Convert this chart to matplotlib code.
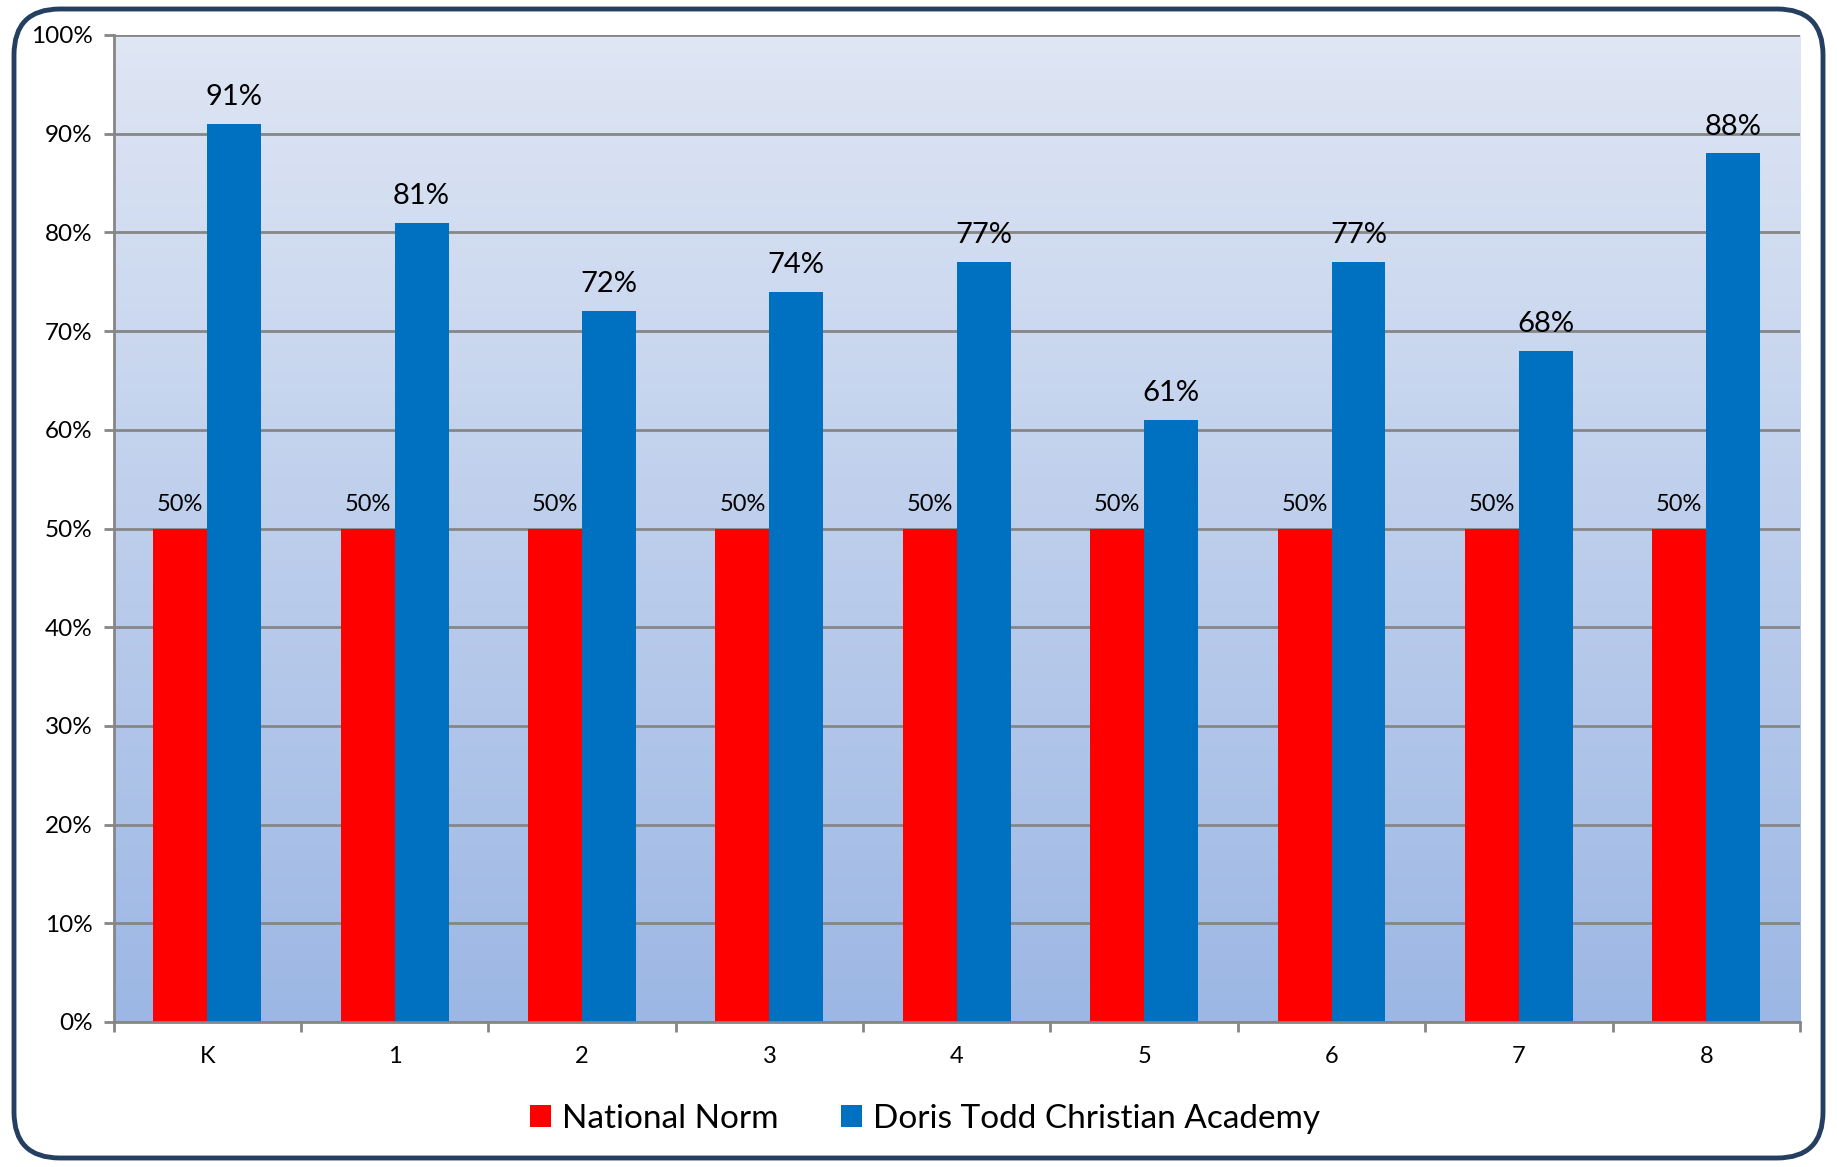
"""
Grade-level percentile chart: National Norm vs Doris Todd Christian Academy.
"""

import numpy as np
import matplotlib.pyplot as plt
from matplotlib.patches import FancyBboxPatch
from matplotlib.ticker import PercentFormatter

# =========================================================
# Data
# =========================================================
GRADES = ["K", "1", "2", "3", "4", "5", "6", "7", "8"]
NATIONAL_NORM = [50, 50, 50, 50, 50, 50, 50, 50, 50]
ACADEMY = [91, 81, 72, 74, 77, 61, 77, 68, 88]

SERIES_NAMES = ["National Norm", "Doris Todd Christian Academy"]
RED = "#ff0000"
BLUE = "#0070c0"
GRID = "#868686"

plt.rcParams["font.family"] = ["Lato", "DejaVu Sans"]

# =========================================================
# Figure
# =========================================================
W, H = 1837, 1167
fig = plt.figure(figsize=(W / 100, H / 100), dpi=100)

# axes placement in pixels
left, right, top, bottom = 113.5, 1800, 35, 1022
ax = fig.add_axes([left / W, 1 - bottom / H, (right - left) / W, (bottom - top) / H])

# gradient background
grad = np.linspace(0, 1, 256).reshape(-1, 1)
top_c = np.array([223, 230, 244]) / 255
bot_c = np.array([156, 183, 228]) / 255
img = top_c[None, None, :] * (1 - grad[:, :, None]) + bot_c[None, None, :] * grad[:, :, None]
ax.imshow(img, extent=[0, len(GRADES), 0, 100], aspect="auto", zorder=0)

x = np.arange(len(GRADES)) + 0.5
bw = 0.288

b1 = ax.bar(x - bw / 2, NATIONAL_NORM, bw, color=RED, zorder=3, label=SERIES_NAMES[0])
b2 = ax.bar(x + bw / 2, ACADEMY, bw, color=BLUE, zorder=3, label=SERIES_NAMES[1])

for rect, v in zip(b1, NATIONAL_NORM):
    ax.annotate(f"{v}%", (rect.get_x() + rect.get_width() / 2, v),
                xytext=(0, 10), textcoords="offset points",
                ha="center", va="bottom", fontsize=17, zorder=5)
for rect, v in zip(b2, ACADEMY):
    ax.annotate(f"{v}%", (rect.get_x() + rect.get_width() / 2, v),
                xytext=(0, 10), textcoords="offset points",
                ha="center", va="bottom", fontsize=21, zorder=5)

ax.set_xlim(0, len(GRADES))
ax.set_ylim(0, 100)
ax.set_yticks(np.arange(0, 101, 10))
ax.yaxis.set_major_formatter(PercentFormatter(decimals=0))
ax.set_xticks(np.arange(0, len(GRADES) + 1))
ax.set_xticklabels([])
ax.set_xticks(x, minor=True)
ax.set_xticklabels(GRADES, minor=True)

ax.grid(axis="y", color=GRID, linewidth=2, zorder=1)
ax.set_axisbelow(False)
for s in ["top", "right"]:
    ax.spines[s].set_visible(False)
for s in ["left", "bottom"]:
    ax.spines[s].set_color(GRID)
    ax.spines[s].set_linewidth(2)
    ax.spines[s].set_zorder(4)

ax.tick_params(axis="y", which="major", length=7, width=2, color=GRID,
               labelsize=17.5, pad=8)
ax.tick_params(axis="x", which="major", length=7, width=2, color=GRID)
ax.tick_params(axis="x", which="minor", length=0, labelsize=17, pad=17)

# legend
fig.legend(handles=[b1, b2], labels=SERIES_NAMES, loc="center",
           bbox_to_anchor=(925 / W, 1 - 1119 / H), ncol=2, frameon=False,
           fontsize=24, handlelength=0.63, handleheight=0.63,
           handletextpad=0.33, columnspacing=1.9)

# rounded border
border = FancyBboxPatch((14 / W, 9 / H), (W - 28) / W, (H - 18) / H,
                        boxstyle="round,pad=0,rounding_size=0.025",
                        transform=fig.transFigure, facecolor="none",
                        edgecolor="#243f60", linewidth=3.5,
                        mutation_aspect=W / H)
fig.patches.append(border)

fig.savefig("out.png", dpi=100)
